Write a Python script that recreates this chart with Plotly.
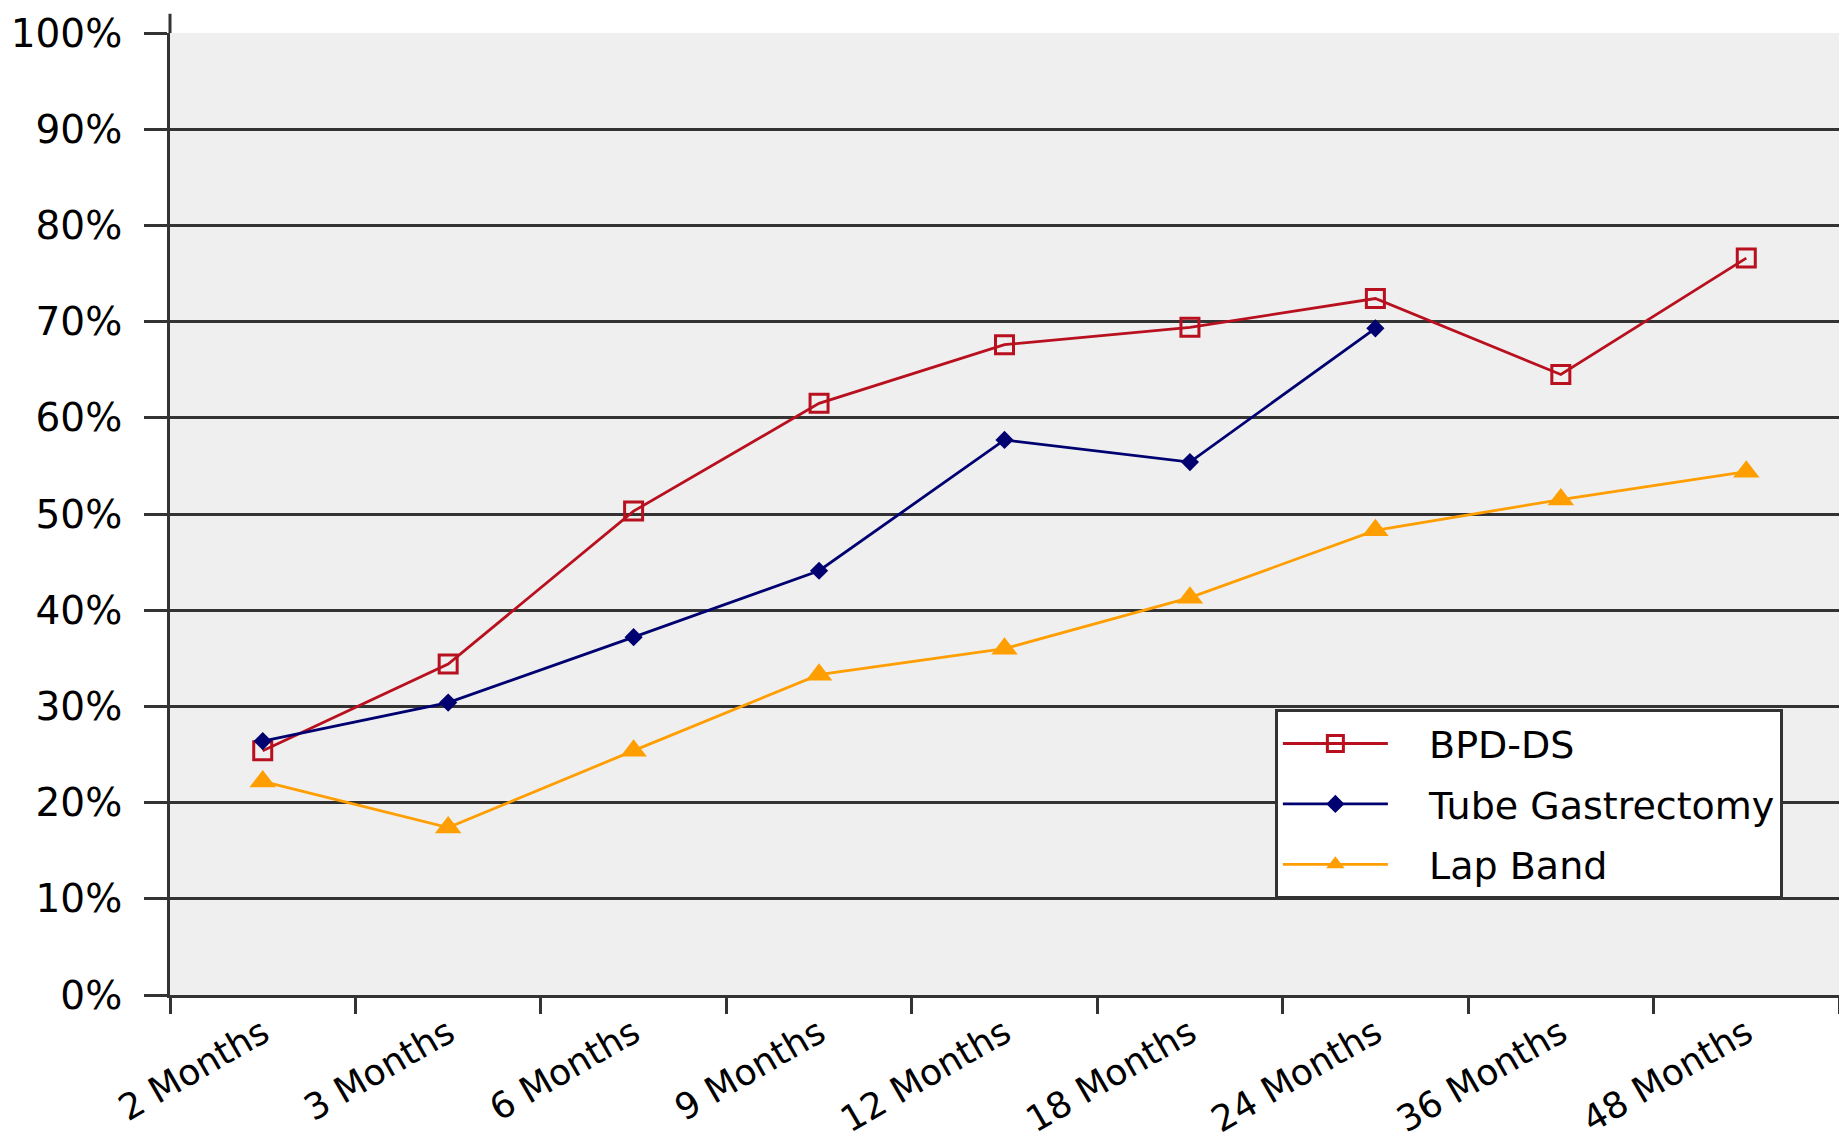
import plotly.graph_objects as go

categories = ["2 Months", "3 Months", "6 Months", "9 Months", "12 Months",
              "18 Months", "24 Months", "36 Months", "48 Months"]
bpd_ds = [25.4, 34.4, 50.3, 61.5, 67.6, 69.4, 72.4, 64.5, 76.6]
tube_gastrectomy = [26.4, 30.4, 37.2, 44.1, 57.7, 55.4, 69.3, None, None]
lap_band = [22.2, 17.4, 25.4, 33.3, 36.0, 41.3, 48.3, 51.5, 54.4]
y_ticks = list(range(0, 101, 10))
y_tick_text = [f"{v}%" for v in y_ticks]

RED = "#B8101E"
NAVY = "#000070"
ORANGE = "#FF9E00"
FONT = "DejaVu Sans"
PAD = "\u00a0\u00a0\u00a0"

fig = go.Figure()
fig.add_trace(go.Scatter(
    x=categories, y=bpd_ds, name=PAD + "BPD-DS", mode="lines+markers",
    legendgroup="a",
    line=dict(color=RED, width=2.8),
    marker=dict(symbol="square-open", size=18, color=RED, line=dict(width=3, color=RED)),
))
fig.add_trace(go.Scatter(
    x=categories, y=tube_gastrectomy, name=PAD + "Tube Gastrectomy", mode="lines+markers",
    legendgroup="b",
    line=dict(color=NAVY, width=2.8),
    marker=dict(symbol="diamond", size=14, color=NAVY),
))
fig.add_trace(go.Scatter(
    x=categories, y=lap_band, name=PAD + "Lap Band", mode="lines+markers",
    legendgroup="c",
    line=dict(color=ORANGE, width=2.8),
    marker=dict(symbol="triangle-up", size=23, color=ORANGE),
))

fig.update_layout(
    width=1839, height=1145,
    margin=dict(l=170, r=0, t=33, b=150, autoexpand=False),
    paper_bgcolor="white",
    plot_bgcolor="#EFEFEF",
    font=dict(family=FONT, size=38, color="black"),
    showlegend=True,
    legend=dict(
        x=0.662, y=0.297, xanchor="left", yanchor="top",
        bgcolor="white", bordercolor="#333333", borderwidth=3,
        font=dict(family=FONT, size=38, color="black"),
        itemwidth=105, tracegroupgap=8,
        itemsizing="trace",
    ),
    xaxis=dict(
        type="category", categoryorder="array", categoryarray=categories,
        range=[-0.5, 8.5], automargin=False,
        tickson="boundaries", ticks="outside", ticklen=16, tickwidth=3,
        tickcolor="#333333", tickangle=-30,
        showline=True, linecolor="#333333", linewidth=3,
        showgrid=False, zeroline=False,
        ticklabelstandoff=0,
        tickfont=dict(family=FONT, size=36, color="black"),
    ),
    yaxis=dict(
        range=[0, 100], tickvals=y_ticks, ticktext=y_tick_text, automargin=False,
        ticks="outside", ticklen=23, tickwidth=3, tickcolor="#333333",
        showline=True, linecolor="#333333", linewidth=3,
        showgrid=True, gridcolor="#333333", gridwidth=3,
        zeroline=False,
        ticklabelstandoff=14,
        tickfont=dict(family=FONT, size=39, color="black"),
    ),
    shapes=[dict(type="line", xref="paper", yref="paper", x0=0, x1=0, y0=1, y1=1.02,
                 line=dict(color="#333333", width=3))],
)

fig.write_html("out.html")
